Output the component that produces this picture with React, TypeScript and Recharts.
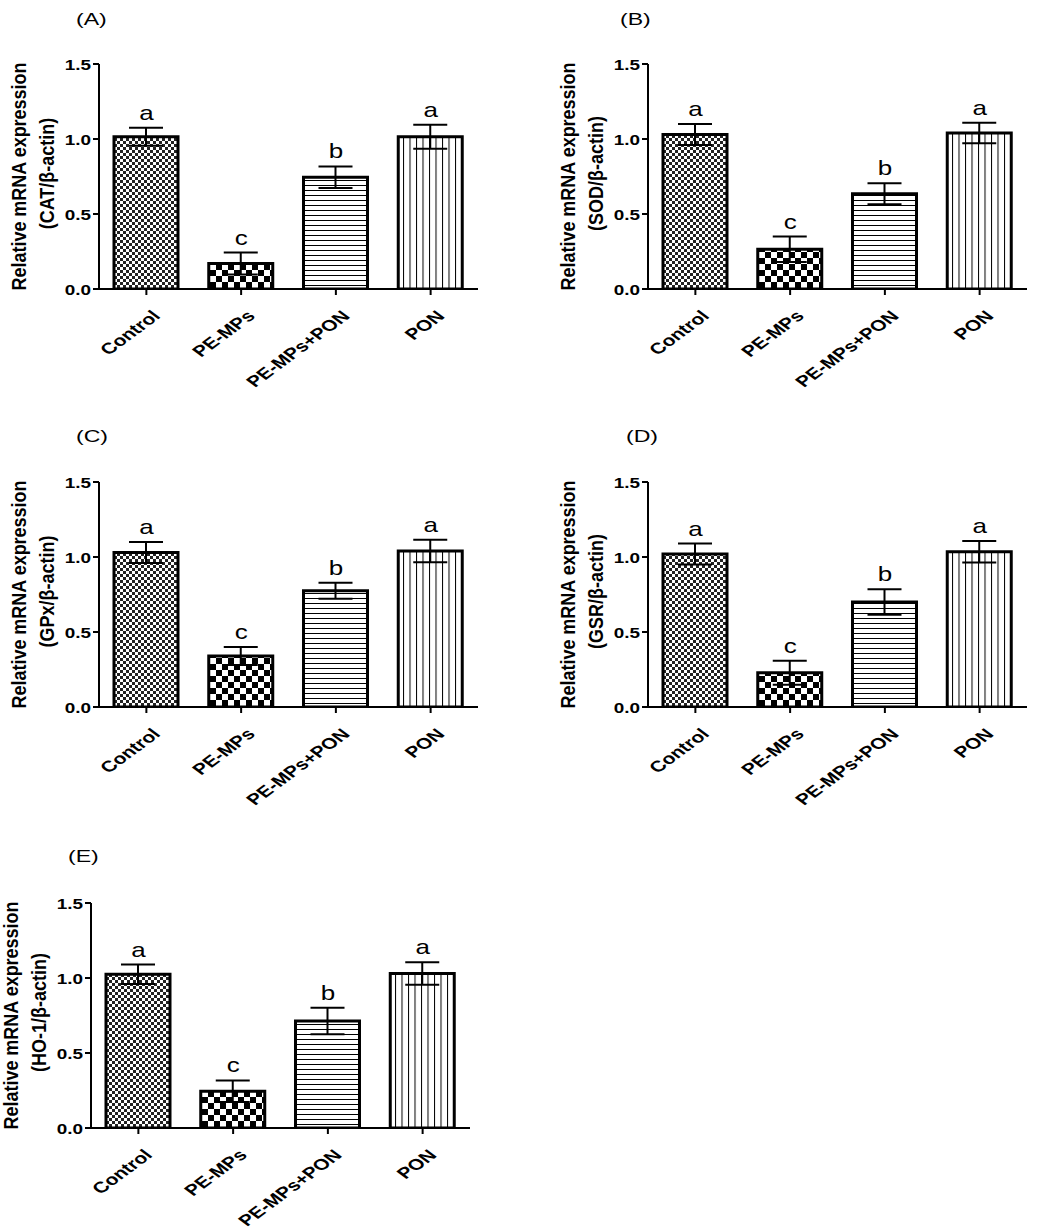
import React from "react";
import { ComposedChart, Bar, Line, XAxis, YAxis, ErrorBar, Cell, LabelList } from "recharts";

const categories = ["Control", "PE-MPs", "PE-MPs+PON", "PON"];
const letters = ["a", "c", "b", "a"];
const yTicks = [0, 0.5, 1.0, 1.5];

const catValues = [1.015, 0.17, 0.745, 1.015];
const catErrors = [0.06, 0.073, 0.072, 0.08];
const sodValues = [1.03, 0.265, 0.635, 1.04];
const sodErrors = [0.07, 0.085, 0.07, 0.068];
const gpxValues = [1.03, 0.34, 0.775, 1.04];
const gpxErrors = [0.07, 0.06, 0.053, 0.075];
const gsrValues = [1.02, 0.228, 0.7, 1.035];
const gsrErrors = [0.07, 0.08, 0.085, 0.072];
const hoValues = [1.025, 0.245, 0.713, 1.03];
const hoErrors = [0.065, 0.072, 0.088, 0.075];

const panels = [
  { tag: "(A)", gene: "CAT", values: catValues, errors: catErrors, left: 0, top: 0, tagX: 76, tagY: 25 },
  { tag: "(B)", gene: "SOD", values: sodValues, errors: sodErrors, left: 549, top: 0, tagX: 620, tagY: 25 },
  { tag: "(C)", gene: "GPx", values: gpxValues, errors: gpxErrors, left: 0, top: 418, tagX: 76, tagY: 442 },
  { tag: "(D)", gene: "GSR", values: gsrValues, errors: gsrErrors, left: 549, top: 418, tagX: 626, tagY: 442 },
  { tag: "(E)", gene: "HO-1", values: hoValues, errors: hoErrors, left: -8, top: 839, tagX: 68, tagY: 862 },
];

const fills = ["url(#fineCheck)", "url(#coarseCheck)", "url(#hLines)", "url(#vLines)"];
const FONT = "'Liberation Sans', Arial, Helvetica, sans-serif";
const SX = 1.35;

const XTick = (props: any) => {
  const { x, y, payload } = props;
  const ax = x + 15;
  const ay = y + 20;
  return (
    <text
      x={0}
      y={0}
      transform={`translate(${ax} ${ay}) scale(${SX} 1) rotate(-45)`}
      textAnchor="end"
      fontFamily={FONT}
      fontWeight="bold"
      fontSize={15.5}
      fill="#000"
    >
      {payload.value}
    </text>
  );
};

const YTick = (props: any) => {
  const { x, y, payload } = props;
  return (
    <text
      x={0}
      y={0}
      transform={`translate(${x} ${y + 1}) scale(${SX} 1)`}
      textAnchor="end"
      dominantBaseline="central"
      fontFamily={FONT}
      fontWeight="bold"
      fontSize={14}
      fill="#000"
    >
      {Number(payload.value).toFixed(1)}
    </text>
  );
};

const LetterLabel = (props: any) => {
  const { x, y, value } = props;
  return (
    <text
      x={0}
      y={0}
      transform={`translate(${x} ${y - 8}) scale(1.3 1)`}
      textAnchor="middle"
      fontFamily={FONT}
      fontSize={20}
      fill="#000"
    >
      {value}
    </text>
  );
};

const YTitle = (gene: string) => (props: any) => {
  const vb = props.viewBox || {};
  const plotLeft = (vb.x || 0) + (vb.width || 0);
  const cy = (vb.y || 0) + (vb.height || 0) / 2;
  const x1 = plotLeft - 80;
  const x2 = plotLeft - 52;
  const common = {
    x: 0,
    y: 0,
    textAnchor: "middle" as const,
    dominantBaseline: "central" as const,
    fontFamily: FONT,
    fontWeight: "bold" as const,
    fontSize: 18,
    fill: "#000",
  };
  return (
    <g>
      <text {...common} transform={`translate(${x1} ${cy}) scale(1.15 1) rotate(-90)`}>
        Relative mRNA expression
      </text>
      <text {...common} transform={`translate(${x2} ${cy - 3}) scale(1.15 1) rotate(-90)`}>
        {`(${gene}/β-actin)`}
      </text>
    </g>
  );
};

const Panel = ({ p }: { p: any }) => {
  const data = categories.map((name, i) => ({
    name,
    value: p.values[i],
    err: p.errors[i],
    top: p.values[i] + p.errors[i],
    letter: letters[i],
  }));
  return (
    <div style={{ position: "absolute", left: p.left, top: p.top, width: 520, height: 410 }}>
      <ComposedChart
        width={520}
        height={410}
        data={data}
        margin={{ top: 64, right: 42, left: 49, bottom: 41 }}
      >
        <XAxis
          dataKey="name"
          type="category"
          height={80}
          tick={<XTick />}
          tickSize={6}
          axisLine={{ stroke: "#000", strokeWidth: 2 }}
          tickLine={{ stroke: "#000", strokeWidth: 2 }}
          interval={0}
        />
        <YAxis
          width={50}
          domain={[0, 1.5]}
          ticks={yTicks}
          tick={<YTick />}
          tickSize={6}
          axisLine={{ stroke: "#000", strokeWidth: 2 }}
          tickLine={{ stroke: "#000", strokeWidth: 2 }}
          label={{ content: YTitle(p.gene) }}
          allowDataOverflow
        />
        <Bar dataKey="value" barSize={64} stroke="#000" strokeWidth={3} isAnimationActive={false}>
          {data.map((d, i) => (
            <Cell key={d.name} fill={fills[i]} />
          ))}
          <ErrorBar dataKey="err" width={17} stroke="#000" strokeWidth={2} direction="y" />
        </Bar>
        <Line
          dataKey="top"
          stroke="none"
          dot={false}
          activeDot={false}
          legendType="none"
          isAnimationActive={false}
        >
          <LabelList dataKey="letter" content={<LetterLabel />} />
        </Line>
      </ComposedChart>
    </div>
  );
};

export default function App() {
  return (
    <div
      style={{
        position: "absolute",
        left: 0,
        top: 0,
        width: 1040,
        height: 1232,
        background: "#fff",
        overflow: "hidden",
        fontFamily: FONT,
      }}
    >
      <svg width={0} height={0} style={{ position: "absolute" }}>
        <defs>
          <pattern id="fineCheck" patternUnits="userSpaceOnUse" width={6} height={6}>
            <rect x={0} y={0} width={6} height={6} fill="#fff" />
            <rect x={0} y={0} width={3} height={3} fill="#222" />
            <rect x={3} y={3} width={3} height={3} fill="#222" />
          </pattern>
          <pattern id="coarseCheck" patternUnits="userSpaceOnUse" width={12} height={12}>
            <rect x={0} y={0} width={12} height={12} fill="#fff" />
            <rect x={0} y={0} width={6} height={6} fill="#000" />
            <rect x={6} y={6} width={6} height={6} fill="#000" />
          </pattern>
          <pattern id="hLines" patternUnits="userSpaceOnUse" width={10} height={5}>
            <rect x={0} y={0} width={10} height={5} fill="#fff" />
            <rect x={0} y={0} width={10} height={1} fill="#000" />
          </pattern>
          <pattern id="vLines" patternUnits="userSpaceOnUse" width={6.5} height={10}>
            <rect x={0} y={0} width={6.5} height={10} fill="#fff" />
            <rect x={0} y={0} width={1} height={10} fill="#000" />
          </pattern>
        </defs>
      </svg>
      <svg width={1040} height={1232} style={{ position: "absolute", left: 0, top: 0, pointerEvents: "none" }}>
        {panels.map((p) => (
          <text
            key={p.tag}
            x={0}
            y={0}
            transform={`translate(${p.tagX} ${p.tagY}) scale(1.4 1)`}
            fontFamily={FONT}
            fontSize={16.5}
            fill="#000"
          >
            {p.tag}
          </text>
        ))}
      </svg>
      {panels.map((p) => (
        <Panel key={p.gene} p={p} />
      ))}
    </div>
  );
}
